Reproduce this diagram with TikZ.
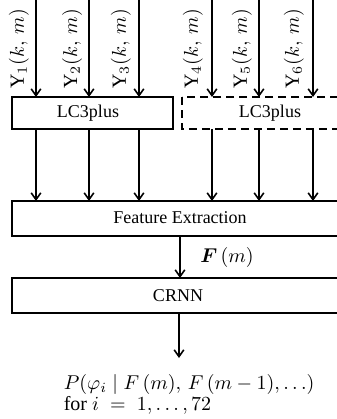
\documentclass[tikz,border=0pt]{standalone}
\usepackage{fontspec}
\setmainfont{Liberation Serif}
\usepackage{bm}
\usetikzlibrary{arrows.meta}
\begin{document}
\begin{tikzpicture}[x=0.5pt,y=-0.5pt,
  line width=0.8pt,
  box/.style={draw,line width=0.8pt},
  arr/.style={-{Straight Barb[length=3.4pt,width=4.8pt,line width=0.8pt]}},
  lbl/.style={font=\fontsize{9}{11}\selectfont,inner sep=0pt},
  ylbl/.style={font=\fontsize{10}{12}\selectfont,rotate=90,inner sep=0pt}]
\useasboundingbox (0,0) rectangle (337,419);
\clip (0,0) rectangle (337,419);
% boxes
\draw[box] (12,97) rectangle (173,129);
\node[lbl] (lcA) at (88,113) {LC3plus};
\draw[box,dashed,dash pattern=on 4pt off 2.5pt] (182,97) rectangle (345,129);
\node[lbl] (lcB) at (270,113) {LC3plus};
\draw[box] (12,201) rectangle (348,236);
\node[lbl] (fe) at (180,218) {Feature Extraction};
\draw[box] (12,278) rectangle (348,313);
\node[lbl] (crnn) at (178,296) {CRNN};
% input coordinates
\foreach \i/\x in {1/36,2/89,3/139,4/212,5/259,6/313}{
  \coordinate (in\i) at (\x,0);
  \coordinate (lt\i) at (\x,97);
  \coordinate (lb\i) at (\x,129);
  \coordinate (ft\i) at (\x,201);
  \draw[arr] (in\i) -- (lt\i);
  \draw[arr] (lb\i) -- (ft\i);
}
\node[ylbl] (y1) at (19,49) {$\mathrm{Y}_1(k,\,m)$};
\node[ylbl] (y2) at (72,49) {$\mathrm{Y}_2(k,\,m)$};
\node[ylbl] (y3) at (121,49) {$\mathrm{Y}_3(k,\,m)$};
\node[ylbl] (y4) at (193,49) {$\mathrm{Y}_4(k,\,m)$};
\node[ylbl] (y5) at (242,49) {$\mathrm{Y}_5(k,\,m)$};
\node[ylbl] (y6) at (294,49) {$\mathrm{Y}_6(k,\,m)$};
% FE to CRNN
\coordinate (feb) at (180,236);
\coordinate (crt) at (180,278);
\draw[arr] (feb) -- (crt);
\node[lbl,font=\fontsize{10}{12}\selectfont] (fm) at (227,257) {$\bm{F}\,(m)$};
% CRNN output
\coordinate (crb) at (179,313);
\coordinate (out) at (179,358);
\draw[arr] (crb) -- (out);
\node[font=\fontsize{10}{10.5}\selectfont,inner sep=0pt,anchor=north west,align=left] (res) at (63,374)
  {$P(\varphi_i \mid F\,(m),\,F\,(m-1),\ldots)$\\for $i\;=\;1,\ldots,72$};
\end{tikzpicture}
\end{document}
